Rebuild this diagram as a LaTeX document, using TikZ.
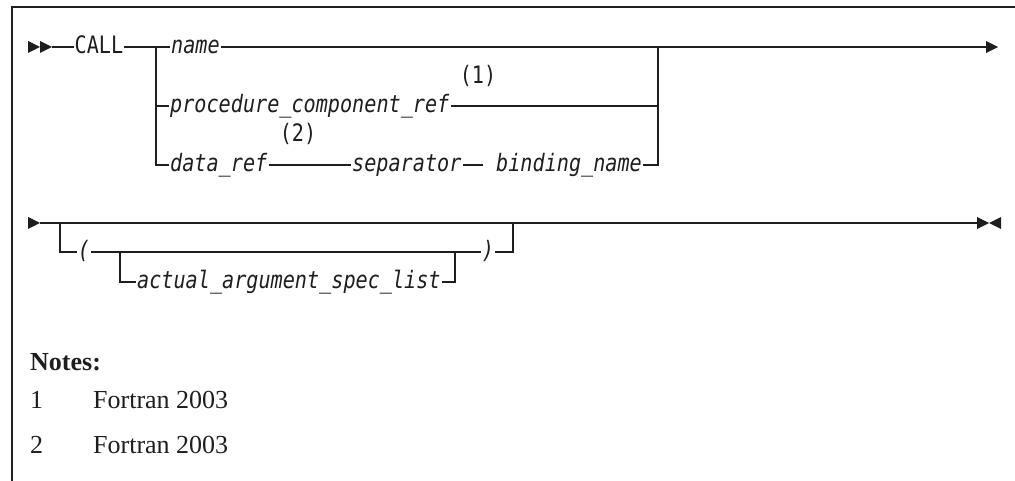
\documentclass[tikz,border=0pt]{standalone}
\usepackage{fontspec}
\setmainfont{Liberation Serif}
\newfontfamily\rrmono[FakeStretch=0.84]{DejaVu Sans Mono}
\definecolor{ink}{HTML}{1E1E1E}
\tikzset{
  rr/.style={line width=1.25pt, draw=ink},
  mono/.style={font=\rrmono\fontsize{24}{28}\selectfont, inner xsep=1pt, inner ysep=0pt, text height=16pt, text depth=3pt, text=ink},
  monoit/.style={mono, font=\rrmono\itshape\fontsize{24}{28}\selectfont},
  tip/.style={fill=ink, draw=none},
  note/.style={font=\fontsize{26}{30}\selectfont, inner sep=0pt, anchor=base west, text=ink},
}
\begin{document}
\begin{tikzpicture}[x=1pt,y=-1pt]
\useasboundingbox (0,0) rectangle (1015,481);
% frame
\coordinate (fb) at (12,481);
\coordinate (fc) at (12,7);
\coordinate (fr) at (1015,7);
\draw[rr] (fb) -- (fc) -- (fr);
% ---------- row 1 ----------
\fill[tip] (28,41) -- (40,47) -- (28,53) -- cycle;
\fill[tip] (40,41) -- (52,47) -- (40,53) -- cycle;
\coordinate (s1) at (52,47);
\node[mono] (call) at (99,47) {CALL};
\coordinate (J1) at (156,47);
\coordinate (J2) at (658,47);
\coordinate (e1) at (986,47);
\fill[tip] (986,41) -- (998,47) -- (986,53) -- cycle;
\node[monoit, anchor=west] (name) at (170,47) {name};
\node[monoit, anchor=west] (proc) at (169,106) {procedure\_component\_ref};
\node[monoit, anchor=west] (dref) at (169,165) {data\_ref};
\node[monoit, anchor=west] (sep) at (351,165) {separator};
\coordinate (sepend) at (483,165);
\node[monoit, anchor=west] (bind) at (495,165) {binding\_name};
\node[mono] (n1) at (478,77) {(1)};
\node[mono] (n2) at (298,135) {(2)};
\draw[rr] (s1) -- (call) -- (J1) -- (name) -- (J2) -- (e1);
\draw[rr] (J1) |- (proc);
\draw[rr] (J1) |- (dref);
\draw[rr] (proc) -| (J2);
\draw[rr] (dref) -- (sep);
\draw[rr] (sep) -- (sepend);
\draw[rr] (bind) -| (J2);
% ---------- row 2 ----------
\fill[tip] (28,217) -- (40,223) -- (28,229) -- cycle;
\coordinate (s2) at (40,223);
\coordinate (J3) at (60,223);
\coordinate (J4) at (513,223);
\coordinate (e2) at (977,223);
\node[monoit] (lp) at (84,252) {(};
\node[monoit] (rp) at (488,252) {)};
\coordinate (J5) at (120,252);
\coordinate (J6) at (455,252);
\node[monoit, anchor=west] (act) at (136,282) {actual\_argument\_spec\_list};
\draw[rr] (s2) -- (J3) -- (J4) -- (e2);
\draw[rr] (J3) |- (lp);
\draw[rr] (lp) -- (J5) -- (J6) -- (rp);
\draw[rr] (rp) -| (J4);
\draw[rr] (J5) |- (act);
\draw[rr] (act) -| (J6);
\coordinate (t1) at (520,222.5);
\coordinate (t2) at (543,222.5);
\draw[line width=1.8pt, draw=ink] (t1) -- (t2);
\fill[tip] (977,217) -- (989,223) -- (977,229) -- cycle;
\fill[tip] (1001,217) -- (989,223) -- (1001,229) -- cycle;
% ---------- notes ----------
\node[note, font=\bfseries\fontsize{26}{30}\selectfont] (notes) at (30,370) {Notes:};
\node[note] (k1) at (30,408) {1};
\node[note] (t1n) at (93,408) {Fortran 2003};
\node[note] (k2) at (30,453) {2};
\node[note] (t2n) at (93,453) {Fortran 2003};
\end{tikzpicture}
\end{document}
